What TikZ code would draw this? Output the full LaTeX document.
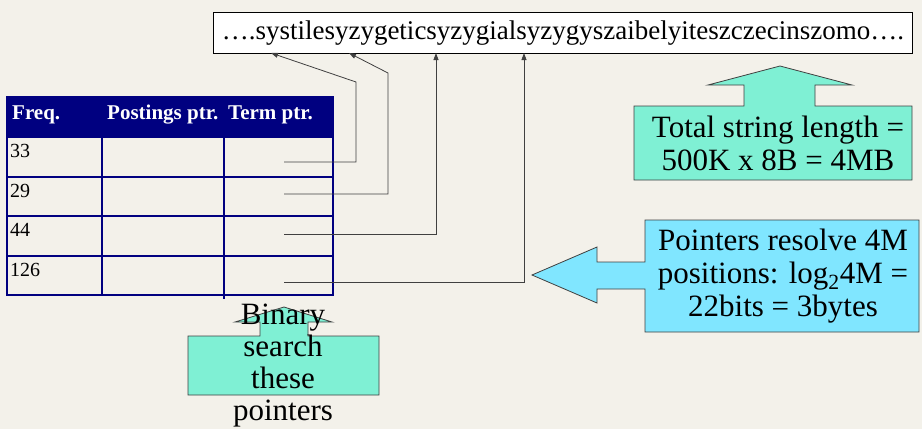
\documentclass[tikz,border=0pt]{standalone}
\usepackage{fontspec}
\setmainfont{Liberation Serif}
\newfontfamily\tms{Liberation Serif}
\usetikzlibrary{arrows.meta}
\definecolor{bg}{HTML}{F3F1EA}
\definecolor{navy}{HTML}{000080}
\definecolor{aqua}{HTML}{7FF0D4}
\definecolor{sky}{HTML}{80E6FF}
\definecolor{edge}{HTML}{404040}
\begin{document}
\begin{tikzpicture}[x=1pt,y=-1pt,
  conn/.style={draw=edge, line width=0.8pt, -{Triangle[length=7pt,width=5pt]}},
  callout/.style={draw=edge, line width=0.8pt},
  cell/.style={anchor=base west, font=\tms\fontsize{20}{20}\selectfont, inner sep=0pt},
  head/.style={anchor=base west, text=white, font=\tms\fontsize{21}{21}\selectfont\bfseries, inner sep=0pt},
  big/.style={font=\tms\fontsize{31}{33}\selectfont, align=center, inner sep=0pt}]
\fill[bg] (0,0) rectangle (922,429);
\useasboundingbox (0,0) rectangle (922,429);

% string box
\node[draw=black, fill=white, line width=0.8pt, minimum width=699pt, minimum height=41pt,
  anchor=north west, inner sep=0pt, font=\tms\fontsize{27}{27}\selectfont] (str) at (213,12)
  {….systilesyzygeticsyzygialsyzygyszaibelyiteszczecinszomo….};

% table
\fill[navy] (7,97) rectangle (333,137);
\foreach \y in {137,177,216,256} \draw[navy, line width=2pt] (7,\y) -- (333,\y);
\draw[navy, line width=1.5pt] (102,137) -- (102,295);
\draw[navy, line width=1.5pt] (224,137) -- (224,299);
\draw[navy, line width=2pt] (7,97) rectangle (333,295);

\node[head] (hf) at (12,119) {Freq.};
\node[head] (hp) at (107,119) {Postings ptr.};
\node[head] (ht) at (228,119) {Term ptr.};

\node[cell] (r1) at (10,157) {33};
\node[cell] (r2) at (10,197) {29};
\node[cell] (r3) at (10,236) {44};
\node[cell] (r4) at (10,276) {126};

% pointer connectors
\coordinate (s1) at (284,162);
\coordinate (s2) at (284,194);
\coordinate (s3) at (284,234);
\coordinate (s4) at (284,282);
\coordinate (t1) at (271,53);
\coordinate (t2) at (349,53);
\coordinate (t3) at (436,53);
\coordinate (t4) at (524,53);
\draw[conn] (s1) -- (356,162) -- (356,82) -- (t1);
\draw[conn] (s2) -- (388,194) -- (388,73) -- (t2);
\draw[conn] (s3) -| (t3);
\draw[conn] (s4) -| (t4);

% green up callout
\draw[callout, fill=aqua] (634,106) -- (744,106) -- (744,85) -- (708,85) -- (780,66) -- (852,85)
  -- (815,85) -- (815,106) -- (912,106) -- (912,180) -- (634,180) -- cycle;
\node[big] (total) at (778,143) {Total string length =\\500K x 8B = 4MB};

% blue left callout
\draw[callout, fill=sky] (645,220) -- (919,220) -- (919,332) -- (645,332) -- (645,289)
  -- (597,289) -- (597,303) -- (532,275) -- (597,247) -- (597,262) -- (645,262) -- cycle;
\node[big] (ptrs) at (783,276) {Pointers resolve 4M\\positions: log\textsubscript{2}4M =\\22bits = 3bytes};

% binary search callout
\draw[callout, fill=aqua] (188,336) -- (260,336) -- (260,322) -- (235,322) -- (284,307)
  -- (332,322) -- (308,322) -- (308,336) -- (379,336) -- (379,395) -- (188,395) -- cycle;
\node[big, font=\tms\fontsize{31}{32}\selectfont] (bin) at (283,366) {Binary\\search\\these\\pointers};
\end{tikzpicture}
\end{document}
